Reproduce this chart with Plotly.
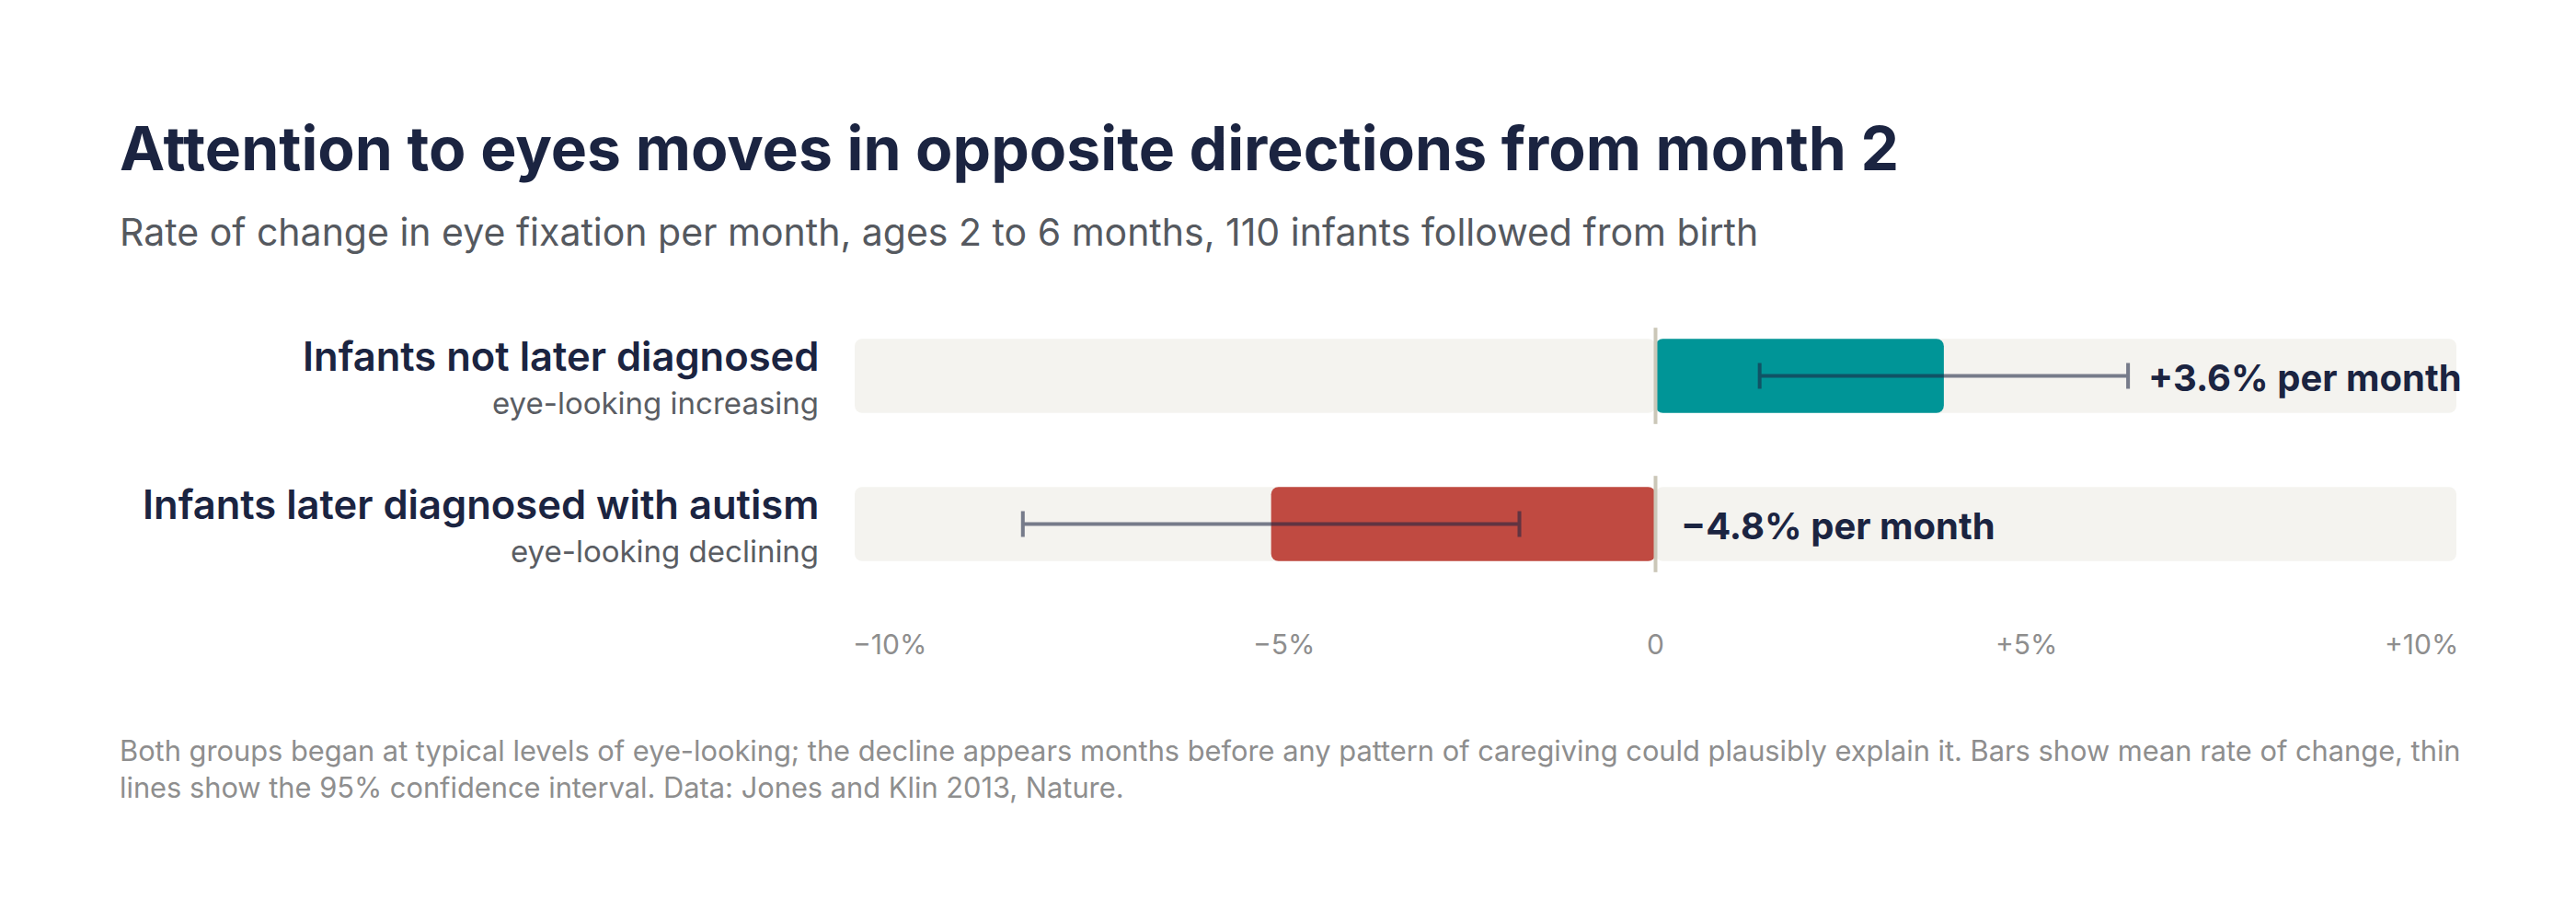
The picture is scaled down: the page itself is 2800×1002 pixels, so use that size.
import plotly.graph_objects as go

# Data
groups = ['Infants not later diagnosed', 'Infants later diagnosed with autism']
subtitles = ['eye-looking increasing', 'eye-looking declining']
rate = [3.6, -4.8]
ci_low = [1.3, -7.9]
ci_high = [5.9, -1.7]
bar_colors = ['#009597', '#c04a41']
value_labels = ['+3.6% per month', '\u22124.8% per month']
tick_vals = [-10, -5, 0, 5, 10]
tick_text = ['\u221210%', '\u22125%', '0', '+5%', '+10%']

FONT = 'Inter'
NAVY = '#1b2441'

W, H = 2800, 1002
OFF = 8  # page body margin
L, R, T, B = 929 - OFF, 130 + OFF, 328 - OFF, 352 + OFF
plot_h = H - T - B


def py(px):
    # screen pixel row -> paper y
    return (H - B - (px - OFF)) / plot_h


def px_x(px):
    # screen pixel column -> paper x
    return (px - OFF - L) / (W - L - R)


fig = go.Figure()

# grey tracks, drawn from 0 to each end so both ends get rounded
for end in [-10, 10]:
    fig.add_trace(go.Bar(
        y=groups, x=[end] * len(groups), base=0, orientation='h',
        width=0.5, marker=dict(color='#f4f3ef', cornerradius=8, line_width=0),
        hoverinfo='skip', showlegend=False))

# zero line per row
for i in range(len(groups)):
    fig.add_shape(type='line', x0=0, x1=0, y0=i - 0.325, y1=i + 0.325,
                  xref='x', yref='y', line=dict(color='#cbc7b8', width=4), layer='above')

# mean bars with CI
fig.add_trace(go.Bar(
    y=groups, x=rate, base=0, orientation='h', width=0.5,
    marker=dict(color=bar_colors, cornerradius=8, line_width=0),
    error_x=dict(type='data', symmetric=False,
                 array=[h - r for h, r in zip(ci_high, rate)],
                 arrayminus=[r - l for r, l in zip(rate, ci_low)],
                 color='rgba(27,36,65,0.58)', thickness=4, width=14),
    hoverinfo='skip', showlegend=False))

ann = []
# value labels
for g, h, txt in zip(groups, ci_high, value_labels):
    ann.append(dict(x=max(h, 0), y=g, xref='x', yref='y', text=txt,
                    xanchor='left', yanchor='middle', xshift=20 if h > 0 else 25, yshift=-2,
                    showarrow=False, font=dict(family=FONT, size=40, color=NAVY, weight=700)))

# row labels
for g, s in zip(groups, subtitles):
    ann.append(dict(x=px_x(892), y=g, xref='paper', yref='y', text=g,
                    xanchor='right', yanchor='middle', yshift=22, showarrow=False,
                    font=dict(family=FONT, size=43.5, color=NAVY, weight=600)))
    ann.append(dict(x=px_x(892), y=g, xref='paper', yref='y', text=s,
                    xanchor='right', yanchor='middle', yshift=-29, showarrow=False,
                    font=dict(family=FONT, size=33, color='#5a5d63')))

# axis tick labels
anchors = {-10: 'left', -5: 'left', 0: 'center', 5: 'right', 10: 'right'}
shifts = {'left': -4, 'center': 0, 'right': 4}
for v, t in zip(tick_vals, tick_text):
    ann.append(dict(x=v, y=py(700), xref='x', yref='paper', text=t,
                    xanchor=anchors[v], xshift=shifts[anchors[v]], yanchor='middle',
                    showarrow=False, font=dict(family=FONT, size=30, color='#8e8e8e')))

# title, subtitle, footnote
ann.append(dict(x=px_x(128), y=py(161), xref='paper', yref='paper',
                text='Attention to eyes moves in opposite directions from month 2',
                xanchor='left', yanchor='middle', showarrow=False,
                font=dict(family=FONT, size=66, color=NAVY, weight=700)))
ann.append(dict(x=px_x(128), y=py(252), xref='paper', yref='paper',
                text='Rate of change in eye fixation per month, ages 2 to 6 months, 110 infants followed from birth',
                xanchor='left', yanchor='middle', showarrow=False,
                font=dict(family=FONT, size=41, color='#55595f')))
ann.append(dict(x=px_x(128), y=py(795), xref='paper', yref='paper',
                text='Both groups began at typical levels of eye-looking; the decline appears months before any '
                     'pattern of caregiving could plausibly explain it. Bars show mean rate of change, thin'
                     '<br>lines show the 95% confidence interval. Data: Jones and Klin 2013, Nature.',
                xanchor='left', yanchor='top', align='left', showarrow=False,
                font=dict(family=FONT, size=30.8, color='#8e8e8e')))

fig.update_layout(
    width=W, height=H,
    margin=dict(l=L, r=R, t=T, b=B, pad=0),
    barmode='overlay',
    plot_bgcolor='white', paper_bgcolor='white',
    xaxis=dict(range=[-10, 10], showgrid=False, zeroline=False, showticklabels=False,
               showline=False, fixedrange=True),
    yaxis=dict(categoryorder='array', categoryarray=groups[::-1], range=[-0.5, 1.5],
               showgrid=False, zeroline=False, showticklabels=False, showline=False),
    annotations=ann,
    font=dict(family=FONT),
)

fig.write_html('out.html')
